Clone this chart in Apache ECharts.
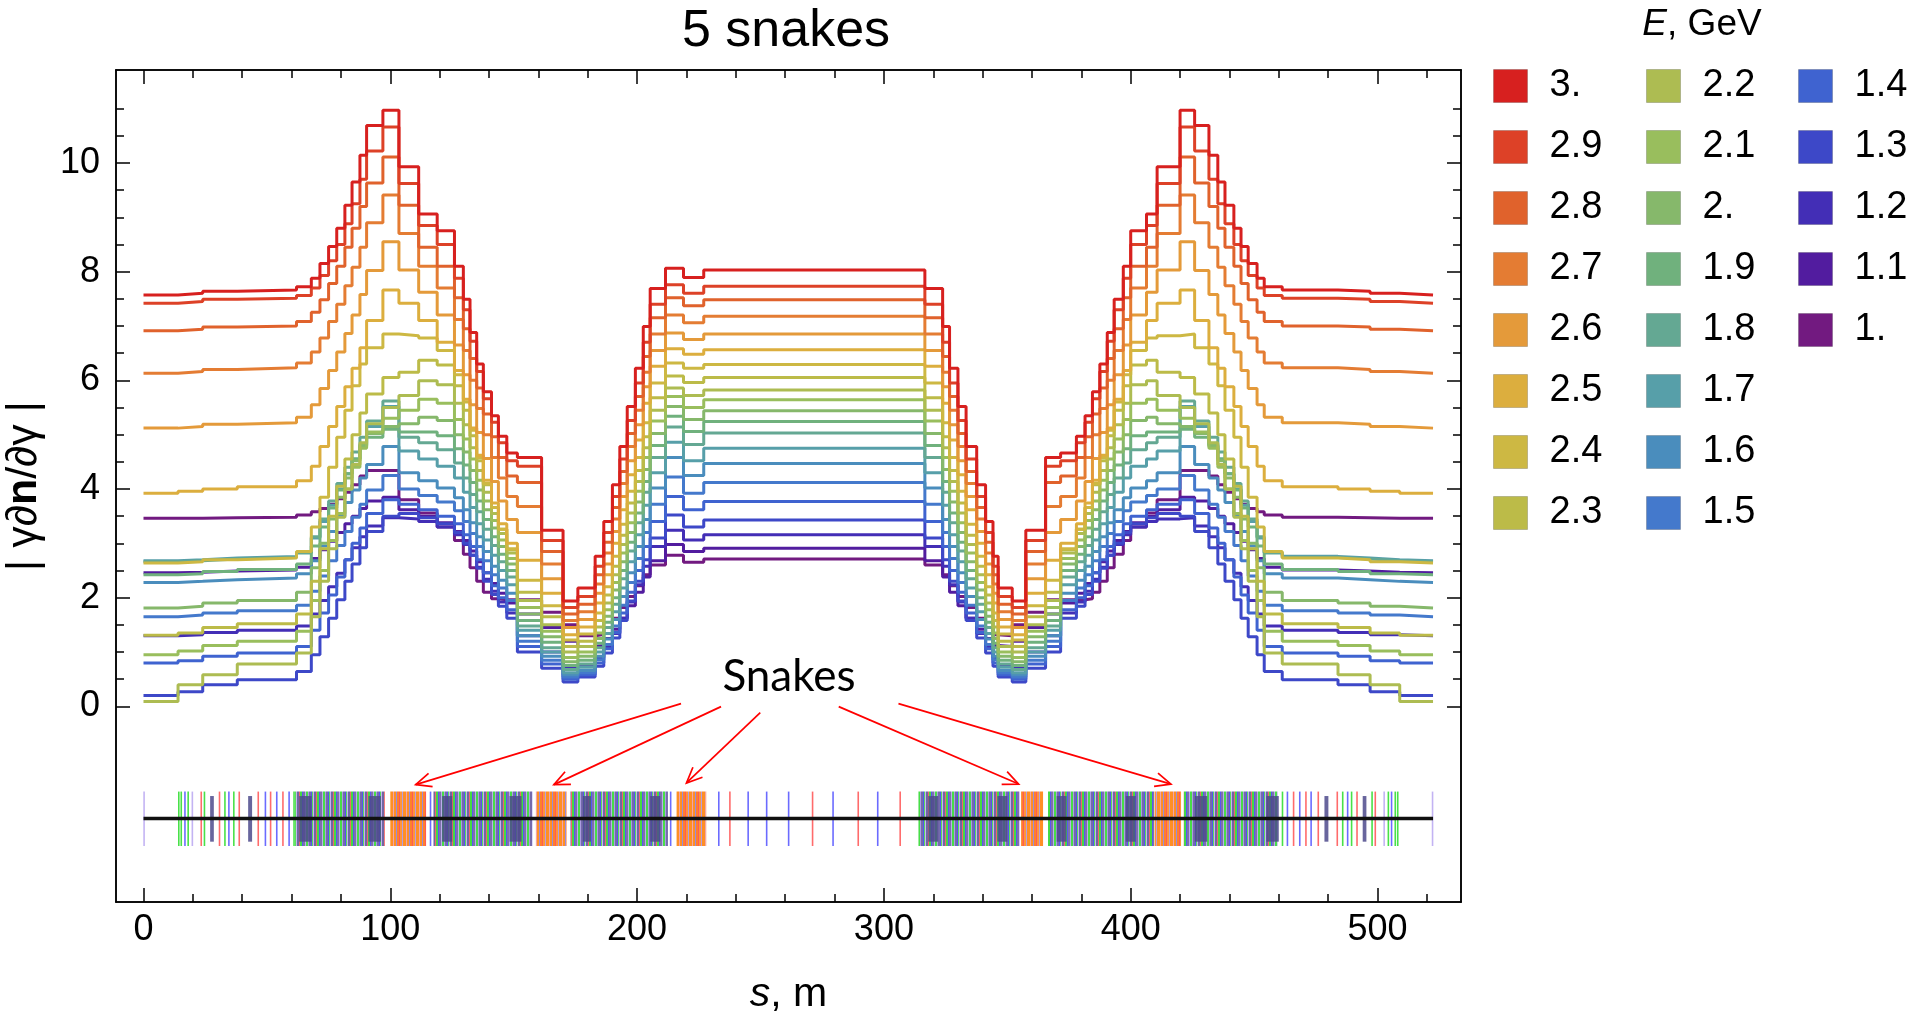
<!DOCTYPE html>
<html><head><meta charset="utf-8">
<script src="https://cdn.jsdelivr.net/npm/echarts@6/dist/echarts.min.js"></script>
<style>html,body{margin:0;padding:0;background:#fff;}#c{width:1917px;height:1013px;}</style>
</head><body><div id="c"></div>
<script>
// ---------- data ----------
const sBreaks = [0,14,24,38,62,68,71.5,75,78.3,81.6,84.5,87.7,90.4,97,103.5,111.5,119,126,129.6,132.3,135,137.7,141,143.8,147.2,151.5,161.3,170,176,183,186.5,190,193,196,199.3,202.5,205.3,
  211.5,218.8,227,
  316.6,323.8,326.6,330,333.3,337.6,341.2,344.2,346.3,352,357.5,365.5,371.6,378,381.5,384.5,387.5,390.5,393.3,397,400,406.4,410.7,420,425.9,431.7,435.3,438.2,441.8,444.7,447.6,451.2,454.1,461.4,484,497,509];
const sEnd = 522.5;

const energies = ['3.','2.9','2.8','2.7','2.6','2.5','2.4','2.3','2.2','2.1','2.','1.9','1.8','1.7','1.6','1.5','1.4','1.3','1.2','1.1','1.'];
const colors = ['#d7201f','#dd4127','#e0622c','#e47c33','#e49a3a','#dcae3e','#cdb843','#bcbb48','#adbc52','#99be5d','#86b86b','#70b17d','#64a893','#579fa9','#4a8dbd','#4479cc','#3f63d0','#3d48c8','#432eb6','#521c9f','#721a80'];

const y30 = [7.57,7.60,7.64,7.66,7.72,7.88,8.15,8.46,8.80,9.22,9.65,10.14,10.69,10.97,9.93,9.06,8.75,8.10,7.49,6.88,6.30,5.79,5.35,4.97,4.66,4.58,3.24,1.94,2.18,2.76,3.40,4.08,4.78,5.52,6.22,6.99,7.69,
  8.06,7.89,8.03,
  7.69,6.99,6.22,5.52,4.78,4.08,3.40,2.76,2.18,1.94,3.24,4.58,4.66,4.97,5.35,5.79,6.30,6.88,7.49,8.10,8.75,9.06,9.93,10.97,10.69,10.14,9.65,9.22,8.80,8.46,8.15,7.88,7.72,7.66,7.64,7.60,7.57];
const y29 = [7.42,7.45,7.49,7.51,7.56,7.70,7.93,8.20,8.50,8.88,9.25,9.70,10.22,10.66,9.62,8.85,8.50,7.88,7.30,6.72,6.16,5.66,5.23,4.85,4.52,4.42,3.05,1.82,2.02,2.58,3.20,3.86,4.55,5.26,5.95,6.70,7.40,
  7.76,7.60,7.73,
  7.40,6.70,5.95,5.26,4.55,3.86,3.20,2.58,2.02,1.82,3.05,4.42,4.52,4.85,5.23,5.66,6.16,6.72,7.30,7.88,8.50,8.85,9.62,10.66,10.22,9.70,9.25,8.88,8.50,8.20,7.93,7.70,7.56,7.51,7.49,7.45,7.42];
const y28 = [6.91,6.94,6.98,7.00,7.08,7.25,7.48,7.78,8.10,8.45,8.80,9.20,9.63,10.11,9.22,8.45,8.10,7.52,6.95,6.40,5.86,5.38,4.96,4.58,4.24,4.12,2.85,1.70,1.88,2.42,3.02,3.66,4.32,5.02,5.70,6.44,7.15,
  7.52,7.37,7.48,
  7.15,6.44,5.70,5.02,4.32,3.66,3.02,2.42,1.88,1.70,2.85,4.12,4.24,4.58,4.96,5.38,5.86,6.40,6.95,7.52,8.10,8.45,9.22,10.11,9.63,9.20,8.80,8.45,8.10,7.78,7.48,7.25,7.08,7.00,6.98,6.94,6.91];
const y27 = [6.13,6.16,6.20,6.23,6.32,6.52,6.78,7.08,7.40,7.74,8.08,8.45,8.90,9.41,8.70,8.10,7.70,7.12,6.55,6.00,5.48,5.00,4.58,4.20,3.86,3.68,2.62,1.58,1.74,2.25,2.82,3.45,4.10,4.78,5.45,6.15,6.85,
  7.20,7.06,7.18,
  6.85,6.15,5.45,4.78,4.10,3.45,2.82,2.25,1.74,1.58,2.62,3.68,3.86,4.20,4.58,5.00,5.48,6.00,6.55,7.12,7.70,8.10,8.70,9.41,8.90,8.45,8.08,7.74,7.40,7.08,6.78,6.52,6.32,6.23,6.20,6.16,6.13];
const y26 = [5.12,5.15,5.19,5.22,5.32,5.55,5.85,6.18,6.52,6.86,7.20,7.58,8.02,8.55,8.03,7.62,7.20,6.65,6.10,5.55,5.04,4.56,4.14,3.78,3.44,3.20,2.35,1.45,1.60,2.08,2.62,3.22,3.86,4.52,5.18,5.88,6.55,
  6.87,6.75,6.85,
  6.55,5.88,5.18,4.52,3.86,3.22,2.62,2.08,1.60,1.45,2.35,3.20,3.44,3.78,4.14,4.56,5.04,5.55,6.10,6.65,7.20,7.62,8.03,8.55,8.02,7.58,7.20,6.86,6.52,6.18,5.85,5.55,5.32,5.22,5.19,5.15,5.12];
const y25 = [3.92,3.96,4.00,4.04,4.15,4.42,4.78,5.15,5.52,5.88,6.22,6.60,7.10,7.66,7.42,7.10,6.70,6.18,5.65,5.12,4.62,4.16,3.74,3.36,3.00,2.69,2.08,1.32,1.46,1.90,2.42,3.00,3.62,4.26,4.90,5.58,6.26,
  6.58,6.48,6.56,
  6.26,5.58,4.90,4.26,3.62,3.00,2.42,1.90,1.46,1.32,2.08,2.69,3.00,3.36,3.74,4.16,4.62,5.12,5.65,6.18,6.70,7.10,7.42,7.66,7.10,6.60,6.22,5.88,5.52,5.15,4.78,4.42,4.15,4.04,4.00,3.96,3.92];
const y24 = [2.64,2.66,2.70,2.73,2.85,3.30,3.85,4.40,4.95,5.45,5.90,6.30,6.60,6.85,6.82,6.78,6.55,6.10,5.60,5.08,4.58,4.10,3.66,3.26,2.90,2.32,1.85,1.22,1.33,1.72,2.20,2.76,3.35,3.96,4.58,5.22,5.95,
  6.32,6.22,6.29,
  5.95,5.22,4.58,3.96,3.35,2.76,2.20,1.72,1.33,1.22,1.85,2.32,2.90,3.26,3.66,4.10,4.58,5.08,5.60,6.10,6.55,6.78,6.82,6.85,6.60,6.30,5.90,5.45,4.95,4.40,3.85,3.30,2.85,2.73,2.70,2.66,2.64];
const y23 = [1.31,1.35,1.45,1.52,1.70,2.30,2.90,3.50,4.05,4.55,5.00,5.40,5.75,6.05,6.15,6.37,6.28,5.90,5.45,4.98,4.52,4.08,3.66,3.26,2.88,2.10,1.65,1.10,1.20,1.58,2.05,2.58,3.15,3.74,4.34,4.96,5.68,
  6.08,5.96,6.05,
  5.68,4.96,4.34,3.74,3.15,2.58,2.05,1.58,1.20,1.10,1.65,2.10,2.88,3.26,3.66,4.08,4.52,4.98,5.45,5.90,6.28,6.37,6.15,6.05,5.75,5.40,5.00,4.55,4.05,3.50,2.90,2.30,1.70,1.52,1.45,1.35,1.31];
const y22 = [0.09,0.40,0.58,0.78,0.98,1.65,2.30,2.90,3.48,4.00,4.45,4.85,5.20,5.50,5.72,5.99,5.92,5.58,5.18,4.76,4.34,3.94,3.55,3.18,2.82,1.95,1.50,1.00,1.10,1.46,1.90,2.42,2.98,3.56,4.14,4.76,5.45,
  5.86,5.72,5.82,
  5.45,4.76,4.14,3.56,2.98,2.42,1.90,1.46,1.10,1.00,1.50,1.95,2.82,3.18,3.55,3.94,4.34,4.76,5.18,5.58,5.92,5.99,5.72,5.50,5.20,4.85,4.45,4.00,3.48,2.90,2.30,1.65,0.98,0.78,0.58,0.40,0.09];
const y21 = [0.95,1.02,1.12,1.20,1.38,1.95,2.50,3.05,3.55,4.00,4.40,4.75,5.05,5.30,5.45,5.65,5.58,5.28,4.92,4.55,4.16,3.78,3.42,3.06,2.72,1.82,1.38,0.90,1.00,1.35,1.78,2.28,2.82,3.38,3.96,4.58,5.25,
  5.70,5.50,5.64,
  5.25,4.58,3.96,3.38,2.82,2.28,1.78,1.35,1.00,0.90,1.38,1.82,2.72,3.06,3.42,3.78,4.16,4.55,4.92,5.28,5.58,5.65,5.45,5.30,5.05,4.75,4.40,4.00,3.55,3.05,2.50,1.95,1.38,1.20,1.12,1.02,0.95];
const y20 = [1.81,1.84,1.90,1.95,2.10,2.55,3.00,3.45,3.85,4.20,4.52,4.80,5.02,5.15,5.20,5.32,5.26,5.00,4.68,4.34,3.98,3.62,3.28,2.94,2.62,1.70,1.28,0.82,0.92,1.25,1.66,2.14,2.66,3.20,3.76,4.36,5.02,
  5.52,5.28,5.44,
  5.02,4.36,3.76,3.20,2.66,2.14,1.66,1.25,0.92,0.82,1.28,1.70,2.62,2.94,3.28,3.62,3.98,4.34,4.68,5.00,5.26,5.32,5.20,5.15,5.02,4.80,4.52,4.20,3.85,3.45,3.00,2.55,2.10,1.95,1.90,1.84,1.81];
const y19 = [2.42,2.44,2.48,2.52,2.62,2.95,3.30,3.65,3.98,4.28,4.55,4.78,4.95,5.10,5.05,5.05,4.98,4.74,4.44,4.12,3.78,3.44,3.12,2.80,2.50,1.58,1.18,0.75,0.85,1.16,1.55,2.00,2.50,3.02,3.56,4.14,4.80,
  5.34,5.06,5.24,
  4.80,4.14,3.56,3.02,2.50,2.00,1.55,1.16,0.85,0.75,1.18,1.58,2.50,2.80,3.12,3.44,3.78,4.12,4.44,4.74,4.98,5.05,5.05,5.10,4.95,4.78,4.55,4.28,3.98,3.65,3.30,2.95,2.62,2.52,2.48,2.44,2.42];
const y18 = [2.66,2.68,2.71,2.74,2.82,3.12,3.45,3.78,4.10,4.40,4.68,4.95,5.25,5.62,4.95,4.85,4.72,4.48,4.20,3.90,3.58,3.26,2.96,2.66,2.38,1.48,1.08,0.68,0.78,1.08,1.45,1.88,2.35,2.86,3.38,3.94,4.58,
  5.14,4.82,5.03,
  4.58,3.94,3.38,2.86,2.35,1.88,1.45,1.08,0.78,0.68,1.08,1.48,2.38,2.66,2.96,3.26,3.58,3.90,4.20,4.48,4.72,4.85,4.95,5.62,5.25,4.95,4.68,4.40,4.10,3.78,3.45,3.12,2.82,2.74,2.71,2.68,2.66];
const y17 = [2.68,2.70,2.73,2.76,2.83,3.10,3.40,3.70,4.00,4.28,4.55,4.82,5.15,5.52,4.70,4.55,4.42,4.20,3.94,3.66,3.36,3.06,2.78,2.50,2.24,1.40,1.00,0.62,0.72,1.00,1.34,1.74,2.18,2.66,3.16,3.70,4.30,
  4.86,4.52,4.75,
  4.30,3.70,3.16,2.66,2.18,1.74,1.34,1.00,0.72,0.62,1.00,1.40,2.24,2.50,2.78,3.06,3.36,3.66,3.94,4.20,4.42,4.55,4.70,5.52,5.15,4.82,4.55,4.28,4.00,3.70,3.40,3.10,2.83,2.76,2.73,2.70,2.68];
const y16 = [2.28,2.30,2.33,2.36,2.44,2.68,2.95,3.22,3.50,3.75,3.98,4.20,4.45,4.78,4.30,4.15,4.02,3.84,3.62,3.38,3.12,2.85,2.58,2.32,2.08,1.30,0.92,0.58,0.66,0.92,1.24,1.60,2.02,2.46,2.94,3.44,4.02,
  4.58,4.25,4.47,
  4.02,3.44,2.94,2.46,2.02,1.60,1.24,0.92,0.66,0.58,0.92,1.30,2.08,2.32,2.58,2.85,3.12,3.38,3.62,3.84,4.02,4.15,4.30,4.78,4.45,4.20,3.98,3.75,3.50,3.22,2.95,2.68,2.44,2.36,2.33,2.30,2.28];
const y15 = [1.65,1.68,1.72,1.76,1.86,2.12,2.40,2.68,2.96,3.22,3.48,3.72,3.98,4.25,4.00,3.88,3.76,3.60,3.40,3.18,2.94,2.68,2.42,2.18,1.95,1.20,0.85,0.54,0.62,0.86,1.14,1.48,1.86,2.28,2.72,3.20,3.72,
  4.22,3.92,4.12,
  3.72,3.20,2.72,2.28,1.86,1.48,1.14,0.86,0.62,0.54,0.85,1.20,1.95,2.18,2.42,2.68,2.94,3.18,3.40,3.60,3.76,3.88,4.00,4.25,3.98,3.72,3.48,3.22,2.96,2.68,2.40,2.12,1.86,1.76,1.72,1.68,1.65];
const y14 = [0.80,0.84,0.92,0.98,1.10,1.40,1.72,2.05,2.38,2.70,3.00,3.28,3.55,3.80,3.72,3.62,3.50,3.36,3.16,2.94,2.70,2.46,2.22,2.00,1.78,1.10,0.78,0.50,0.58,0.80,1.06,1.36,1.72,2.10,2.50,2.94,3.40,
  3.86,3.62,3.77,
  3.40,2.94,2.50,2.10,1.72,1.36,1.06,0.80,0.58,0.50,0.78,1.10,1.78,2.00,2.22,2.46,2.70,2.94,3.16,3.36,3.50,3.62,3.72,3.80,3.55,3.28,3.00,2.70,2.38,2.05,1.72,1.40,1.10,0.98,0.92,0.84,0.80];
const y13 = [0.20,0.27,0.40,0.49,0.64,0.95,1.28,1.62,1.96,2.30,2.62,2.92,3.22,3.50,3.55,3.47,3.36,3.20,3.00,2.78,2.54,2.30,2.06,1.84,1.62,1.00,0.70,0.45,0.54,0.74,0.98,1.26,1.58,1.94,2.30,2.70,3.10,
  3.52,3.30,3.43,
  3.10,2.70,2.30,1.94,1.58,1.26,0.98,0.74,0.54,0.45,0.70,1.00,1.62,1.84,2.06,2.30,2.54,2.78,3.00,3.20,3.36,3.47,3.55,3.50,3.22,2.92,2.62,2.30,1.96,1.62,1.28,0.95,0.64,0.49,0.40,0.27,0.20];
const y12 = [1.30,1.32,1.36,1.40,1.48,1.70,1.95,2.20,2.45,2.70,2.92,3.12,3.32,3.47,3.45,3.40,3.30,3.16,2.98,2.78,2.56,2.34,2.12,1.92,1.72,1.30,1.00,0.70,0.75,0.90,1.10,1.34,1.62,1.92,2.24,2.58,2.94,
  3.24,3.06,3.16,
  2.94,2.58,2.24,1.92,1.62,1.34,1.10,0.90,0.75,0.70,1.00,1.30,1.72,1.92,2.12,2.34,2.56,2.78,2.98,3.16,3.30,3.40,3.45,3.47,3.32,3.12,2.92,2.70,2.45,2.20,1.95,1.70,1.48,1.40,1.36,1.32,1.30];
const y11 = [2.46,2.47,2.49,2.51,2.56,2.72,2.88,3.04,3.20,3.36,3.50,3.64,3.78,3.85,3.62,3.50,3.38,3.22,3.05,2.86,2.66,2.46,2.26,2.08,1.90,1.70,1.45,1.20,1.10,1.12,1.25,1.42,1.62,1.85,2.10,2.38,2.68,
  2.98,2.85,2.91,
  2.68,2.38,2.10,1.85,1.62,1.42,1.25,1.12,1.10,1.20,1.45,1.70,1.90,2.08,2.26,2.46,2.66,2.86,3.05,3.22,3.38,3.50,3.62,3.85,3.78,3.64,3.50,3.36,3.20,3.04,2.88,2.72,2.56,2.51,2.49,2.47,2.46];
const y10 = [3.46,3.46,3.47,3.48,3.52,3.58,3.64,3.72,3.82,3.94,4.08,4.24,4.34,4.34,3.80,3.56,3.30,3.05,2.80,2.55,2.30,2.10,1.98,1.96,1.96,1.96,1.73,1.50,1.30,1.32,1.45,1.62,1.82,2.02,2.22,2.42,2.60,
  2.78,2.65,2.71,
  2.60,2.42,2.22,2.02,1.82,1.62,1.45,1.32,1.30,1.50,1.73,1.96,1.96,1.96,1.98,2.10,2.30,2.55,2.80,3.05,3.30,3.56,3.80,4.34,4.34,4.24,4.08,3.94,3.82,3.72,3.64,3.58,3.52,3.48,3.47,3.46,3.46];

const seriesValues = [y30,y29,y28,y27,y26,y25,y24,y23,y22,y21,y20,y19,y18,y17,y16,y15,y14,y13,y12,y11,y10];

// axis ticks / labels
const xMajor = [0,100,200,300,400,500];
const xMinor = [20,40,60,80,120,140,160,180,220,240,260,280,320,340,360,380,420,440,460,480,520];
const yMajor = [0,2,4,6,8,10];
const yMinor = [0.5,1,1.5,2.5,3,3.5,4.5,5,5.5,6.5,7,7.5,8.5,9,9.5,10.5,11];

// lattice (element positions along s, m)
const latZones = [[61.4,97.8,0],[100,114.5,1],[117.5,157.5,0],[159,171.4,1],[173,212.5,0],[216,228,1],[314,355,0],[355.6,364.5,1],[366.5,409.5,0],[409.7,420.4,1],[421.5,459.5,0]];
const latLines = [[0.24,3],[14.3,0],[15.3,0],[16.8,1],[18.1,0],[19.8,3],[23.4,2],[24.7,0],[30.8,2],[33,0],[34.6,1],[36.6,0],[38.8,2],[46.5,2],[49.4,1],[51.5,2],[54,1],[56.5,2],[59,1],[61,0],
  [116.3,1],[213.6,1],[233.1,1],[237.6,2],[245,1],[252.5,1],[261.4,1],[271.1,2],[279.4,1],[289.6,2],[297.5,1],[306.6,2],
  [461.5,0],[463.5,1],[466,2],[468.5,1],[471,2],[473.1,1],[476,2],[483.7,2],[485.9,0],[487.9,1],[489.5,0],[491.7,2],[497.8,0],[499.1,2],[502.7,3],[504.4,0],[505.7,1],[507.2,0],[508.2,0],[522.3,3]];
const latBlocks = [[27,28.5],[42.4,44],[63.1,68.1],[91.2,96.2],[121,125.1],[148.3,153.2],[178,181.3],[205.3,209.4],[318,322],[346,350],[370,374],[398,402],[426,431],[455,460],[478.5,480.1],[494,495.5]];
const arrows = [[217.8,0.05,110.3,-1.44],[234,-0.005,166.3,-1.44],[249.9,-0.116,220,-1.41],[281.7,-0.005,354.6,-1.43],[305.9,0.05,416.3,-1.43]];

// ---------- styling helpers ----------
const FONT = 'Liberation Sans, Arial, sans-serif';
const latTop = -1.568, latBot = -2.57, blkTop = -1.65, blkBot = -2.49, latMid = -2.064;
const latColors = ['rgba(40,220,40,0.85)','rgba(70,70,255,0.8)','rgba(255,70,70,0.8)','rgba(180,160,240,0.8)'];
function makePattern(stripes){
  const w = stripes.reduce((a,b)=>a+b[1],0);
  const cv = document.createElement('canvas'); cv.width = w; cv.height = 4;
  const ctx = cv.getContext('2d'); let x = 0;
  stripes.forEach(([c,n])=>{ctx.fillStyle=c; ctx.fillRect(x,0,n,4); x+=n;});
  return {image: cv, repeat: 'repeat'};
}
const densePat = makePattern([['#3fdc3f',2],['#a898e0',1],['#6e62a8',2],['#4a4af0',1],['#52d852',1],['#c0b0f0',1],['#6a5ea0',2],['#f06060',1],['#3ad83a',2],['#5050f0',1],['#766aa8',2],['#b8a8ea',1]]);
const snakePat = makePattern([['#ff8a1a',3],['#f0a0a8',1],['#ff8a1a',2],['#9486d8',1],['#ff7a20',2],['#ff5050',1],['#ff9030',2],['#b09ae0',1]]);

const chart = echarts.init(document.getElementById('c'), null, {renderer:'canvas'});

const lineSeries = [];
for (let i = seriesValues.length - 1; i >= 0; i--) {
  const vals = seriesValues[i];
  const data = sBreaks.map((s, j) => [s, vals[j]]);
  data.push([sEnd, vals[vals.length - 1]]);
  lineSeries.push({
    name: energies[i], type: 'line', step: 'end', data,
    showSymbol: false, symbol: 'none', silent: true,
    lineStyle: {color: colors[i], width: 3}, itemStyle: {color: colors[i]},
    xAxisIndex: 0, yAxisIndex: 0, z: 3
  });
}

const latticeSeries = [
  {type:'custom', xAxisIndex:0, yAxisIndex:0, z:2, silent:true, data: latZones,
   renderItem:(p, api)=>{const a=api.coord([api.value(0),latTop]), b=api.coord([api.value(1),latBot]);
     return {type:'rect', shape:{x:a[0],y:a[1],width:b[0]-a[0],height:b[1]-a[1]}, style:{fill: api.value(2)===0?densePat:snakePat, opacity:0.95}};}},
  {type:'custom', xAxisIndex:0, yAxisIndex:0, z:2, silent:true, data: latLines,
   renderItem:(p, api)=>{const a=api.coord([api.value(0),latTop]), b=api.coord([api.value(0),latBot]);
     return {type:'line', shape:{x1:a[0],y1:a[1],x2:b[0],y2:b[1]}, style:{stroke: latColors[api.value(1)], lineWidth:1.6}};}},
  {type:'custom', xAxisIndex:0, yAxisIndex:0, z:2, silent:true, data: latBlocks,
   renderItem:(p, api)=>{const a=api.coord([api.value(0),blkTop]), b=api.coord([api.value(1),blkBot]);
     return {type:'rect', shape:{x:a[0],y:a[1],width:b[0]-a[0],height:b[1]-a[1]}, style:{fill:'rgba(78,74,140,0.85)'}};}},
  {type:'line', xAxisIndex:0, yAxisIndex:0, z:4, silent:true, symbol:'none', data:[[0,latMid],[sEnd,latMid]],
   lineStyle:{color:'#111', width:3.5}},
  {type:'custom', xAxisIndex:0, yAxisIndex:0, z:5, silent:true, data: arrows,
   renderItem:(p, api)=>{
     const a=api.coord([api.value(0),api.value(1)]), b=api.coord([api.value(2),api.value(3)]);
     const ang=Math.atan2(b[1]-a[1], b[0]-a[0]), L=17, w=0.42;
     const h1=[b[0]-L*Math.cos(ang-w), b[1]-L*Math.sin(ang-w)], h2=[b[0]-L*Math.cos(ang+w), b[1]-L*Math.sin(ang+w)];
     return {type:'group', children:[
       {type:'line', shape:{x1:a[0],y1:a[1],x2:b[0],y2:b[1]}, style:{stroke:'#f00', lineWidth:1.7}},
       {type:'polyline', shape:{points:[h1,b,h2]}, style:{stroke:'#f00', lineWidth:1.7, fill:null}}]};
   }}
];

const X0 = -11.14, X1 = 533.83, Y0 = -3.60, Y1 = 11.71;
const tickStyle = {color:'#000', width:1.5};
function xAx(pos, ticks, len, labels, extra){
  return Object.assign({type:'value', min:X0, max:X1, position:pos,
    axisLine:{show:true, onZero:false, lineStyle:{color:'#000', width:1.5}},
    axisTick:{show:true, inside:true, length:len, customValues:ticks, lineStyle:tickStyle},
    axisLabel: labels ? {show:true, customValues:ticks, fontSize:36, margin:10, color:'#000', fontFamily:FONT} : {show:false},
    splitLine:{show:false}}, extra||{});
}
function yAx(pos, ticks, len, labels, extra){
  return Object.assign({type:'value', min:Y0, max:Y1, position:pos,
    axisLine:{show:true, onZero:false, lineStyle:{color:'#000', width:1.5}},
    axisTick:{show:true, inside:true, length:len, customValues:ticks, lineStyle:tickStyle},
    axisLabel: labels ? {show:true, customValues:ticks, fontSize:36, margin:16, color:'#000', fontFamily:FONT} : {show:false},
    splitLine:{show:false}}, extra||{});
}

const legendCommon = {orient:'vertical', top:62, itemWidth:34, itemHeight:33, itemGap:23, selectedMode:false,
  icon:'rect', itemStyle:{borderColor:'rgba(0,0,0,0.18)', borderWidth:1},
  textStyle:{fontSize:38, color:'#000', fontFamily:FONT, lineHeight:32, padding:[0,0,0,17]}};

chart.setOption({
  animation:false,
  backgroundColor:'#fff',
  grid:{left:116, top:70, width:1345, height:832, containLabel:false, outerBoundsMode:'none', show:false},
  xAxis:[
    xAx('bottom', xMajor, 14, true, {name:'{i|s}, m', nameLocation:'middle', nameGap:72,
      nameTextStyle:{fontSize:41, color:'#000', fontFamily:FONT, rich:{i:{fontStyle:'italic', fontSize:41, fontFamily:FONT}}}}),
    xAx('bottom', xMinor, 8, false),
    xAx('top', xMajor, 14, false),
    xAx('top', xMinor, 8, false)
  ],
  yAxis:[
    yAx('left', yMajor, 14, true, {name:'| \u03b3\u2202{b|n}/\u2202\u03b3 |', nameLocation:'middle', nameGap:70, nameRotate:90,
      nameTextStyle:{fontSize:43, color:'#000', fontFamily:FONT, rich:{b:{fontWeight:'bold', fontSize:43, fontFamily:FONT}}}}),
    yAx('left', yMinor, 8, false),
    yAx('right', yMajor, 14, false),
    yAx('right', yMinor, 8, false)
  ],
  legend:[
    Object.assign({left:1488, data:energies.slice(0,8)}, legendCommon),
    Object.assign({left:1641, data:energies.slice(8,16)}, legendCommon),
    Object.assign({left:1793, data:energies.slice(16)}, legendCommon)
  ],
  graphic:[
    {type:'text', x:786, y:32, style:{text:'5 snakes', font:'52px '+FONT, fill:'#000', textAlign:'center', textVerticalAlign:'middle'}},
    {type:'text', x:1702, y:25, style:{text:'{i|E}, GeV', textAlign:'center', textVerticalAlign:'middle', font:'37px '+FONT, fill:'#000',
      rich:{i:{fontStyle:'italic', fontSize:37, fontFamily:FONT}}}},
    {type:'text', x:789, y:677, z:10, style:{text:'Snakes', font:'44px Lato, "Open Sans", sans-serif', fill:'#000', textAlign:'center', textVerticalAlign:'middle'}}
  ],
  series: latticeSeries.concat(lineSeries)
});
</script></body></html>
